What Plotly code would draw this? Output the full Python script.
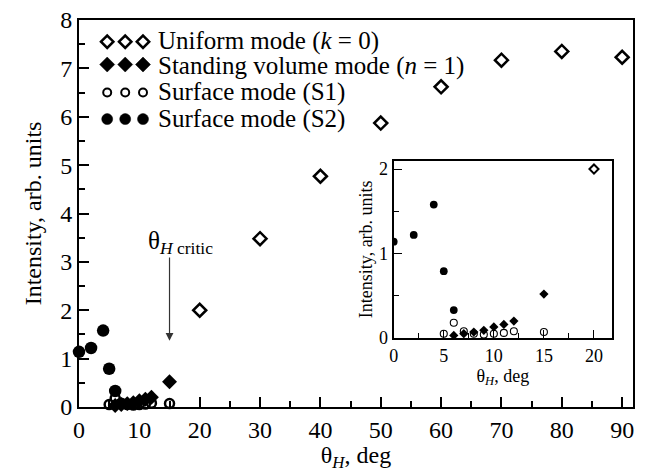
import plotly.graph_objects as go

# ---- data ----
uniform_x = [20, 30, 40, 50, 60, 70, 80, 90]
uniform_y = [2.0, 3.48, 4.77, 5.87, 6.62, 7.17, 7.35, 7.23]

standing_x = [6, 7, 8, 9, 10, 11, 12, 15]
standing_y = [0.03, 0.05, 0.07, 0.09, 0.13, 0.16, 0.20, 0.52]

s1_x = [5, 6, 7, 8, 9, 10, 11, 12, 15]
s1_y = [0.05, 0.18, 0.08, 0.05, 0.04, 0.05, 0.06, 0.08, 0.07]

s2_x = [0, 2, 4, 5, 6]
s2_y = [1.14, 1.22, 1.58, 0.79, 0.33]

legend_labels = [
    "Uniform mode (<i>k</i> = 0)",
    "Standing volume mode (<i>n</i> = 1)",
    "Surface mode (S1)",
    "Surface mode (S2)",
]

FONT = "Liberation Serif"
FS = 25      # legend / annotation text size
FS_T = 24    # axis tick/title size
FS_IN = 18   # inset text size
W, H = 645, 472
L, R, T, B = 79.3, 633.3, 20, 406.7

def fx(px):
    return (px - L) / (R - L)

def fy(py):
    return (B - py) / (B - T)

fig = go.Figure()

def add_series(xref, yref, big, clip):
    s = 1.0 if big else 0.62
    fig.add_trace(go.Scatter(x=uniform_x, y=uniform_y, mode="markers", xaxis=xref, yaxis=yref,
                             cliponaxis=clip,
                             marker=dict(symbol="diamond-open", size=10 * (1.0 if big else 0.7), color="black",
                                         line=dict(width=2.5 if big else 2, color="black"))))
    fig.add_trace(go.Scatter(x=standing_x, y=standing_y, mode="markers", xaxis=xref, yaxis=yref,
                             cliponaxis=clip,
                             marker=dict(symbol="diamond", size=11.5 * s, color="black",
                                         line=dict(width=0))))
    fig.add_trace(go.Scatter(x=s2_x, y=s2_y, mode="markers", xaxis=xref, yaxis=yref,
                             cliponaxis=clip,
                             marker=dict(symbol="circle", size=12.5 * s, color="black",
                                         line=dict(width=0))))
    fig.add_trace(go.Scatter(x=s1_x, y=s1_y, mode="markers", xaxis=xref, yaxis=yref,
                             cliponaxis=clip,
                             marker=dict(symbol="circle-open", size=9 if big else 7, color="black",
                                         line=dict(width=2.5 if big else 1.1, color="black"))))

add_series("x", "y", True, False)
add_series("x2", "y2", False, True)

# ---- manual legend: three glyphs per row drawn as pixel-sized shapes ----
leg_rows_y = [41.7, 64.5, 92.5, 119.0]
leg_glyph_x = [107.5, 125.5, 143.3]

def diamond_path(r):
    return f"M {-r} 0 L 0 {r} L {r} 0 L 0 {-r} Z"

for i, ry in enumerate(leg_rows_y):
    for gx in leg_glyph_x:
        common = dict(xref="paper", yref="paper", xsizemode="pixel", ysizemode="pixel",
                      xanchor=fx(gx), yanchor=fy(ry), layer="above")
        if i == 0:
            fig.add_shape(type="path", path=diamond_path(6.2), fillcolor="white",
                          line=dict(color="black", width=2.5), **common)
        elif i == 1:
            fig.add_shape(type="path", path=diamond_path(7.5), fillcolor="black",
                          line=dict(color="black", width=0.5), **common)
        elif i == 2:
            fig.add_shape(type="circle", x0=-4, x1=4, y0=-4, y1=4, fillcolor="white",
                          line=dict(color="black", width=2), **common)
        else:
            fig.add_shape(type="circle", x0=-5.5, x1=5.5, y0=-5.5, y1=5.5, fillcolor="black",
                          line=dict(color="black", width=0.5), **common)

text_rows_y = [40.5, 66.0, 92.0, 118.5]
for ry, lab in zip(text_rows_y, legend_labels):
    fig.add_annotation(x=fx(156), y=fy(ry), xref="paper", yref="paper", text=lab, showarrow=False,
                       xanchor="left", yanchor="middle", font=dict(family=FONT, size=FS, color="black"))

# ---- critical angle annotation ----
fig.add_annotation(x=15, y=1.37, ax=15, ay=3.12, xref="x", yref="y", axref="x", ayref="y",
                   text="", showarrow=True, arrowhead=2, arrowsize=1.3, arrowwidth=1.2,
                   arrowcolor="#333333")
fig.add_annotation(x=11.1, y=3.4, xref="x", yref="y",
                   text="θ<sub><i>H</i> critic</sub>", showarrow=False, xanchor="left", yanchor="middle",
                   font=dict(family=FONT, size=FS, color="black"))

tickfont = dict(family=FONT, size=FS_T, color="black")
tickfont_in = dict(family=FONT, size=FS_IN, color="black")

ix0 = fx(394)
ix1 = fx(612.3)
iy0 = fy(337.7)
iy1 = fy(160.5)

fig.update_layout(
    template="none",
    width=W, height=H,
    margin=dict(l=L, r=W - R, t=T, b=H - B, pad=0),
    paper_bgcolor="white", plot_bgcolor="white",
    showlegend=False,
    font=dict(family=FONT, size=FS_T, color="black"),
    xaxis=dict(domain=[0, 1], range=[0, 91.8], dtick=10, tick0=0, ticks="inside", ticklen=10,
               tickwidth=1.5, tickcolor="black", showline=True, linewidth=2, linecolor="black",
               mirror=True, showgrid=False, zeroline=False, tickfont=tickfont,
               minor=dict(ticks="inside", dtick=5, tick0=0, ticklen=6, tickwidth=1.5, tickcolor="black"),
               title=dict(text="θ<sub><i>H</i></sub>, deg", font=dict(family=FONT, size=FS_T, color="black"),
                          standoff=5)),
    yaxis=dict(domain=[0, 1], range=[0, 8], dtick=1, tick0=0, ticks="inside", ticklen=10,
               tickwidth=1.5, tickcolor="black", showline=True, linewidth=2, linecolor="black",
               mirror=True, showgrid=False, zeroline=False, tickfont=tickfont,
               minor=dict(ticks="inside", dtick=0.5, tick0=0, ticklen=6, tickwidth=1.5, tickcolor="black"),
               title=dict(text="Intensity, arb. units", font=dict(family=FONT, size=FS_T, color="black"),
                          standoff=12)),
    xaxis2=dict(domain=[ix0, ix1], anchor="y2", range=[0, 21.8], dtick=5, tick0=0, ticks="inside",
                ticklen=8, tickwidth=1.3, tickcolor="black", showline=True, linewidth=2, linecolor="black",
                mirror=True, showgrid=False, zeroline=False, tickfont=tickfont_in,
                minor=dict(ticks="inside", dtick=2.5, tick0=0, ticklen=5, tickwidth=1.3, tickcolor="black"),
                title=dict(text="θ<sub><i>H</i></sub>, deg", font=dict(family=FONT, size=FS_IN, color="black"),
                           standoff=0)),
    yaxis2=dict(domain=[iy0, iy1], anchor="x2", range=[0, 2.1], dtick=1, tick0=0, ticks="inside",
                ticklen=8, tickwidth=1.3, tickcolor="black", showline=True, linewidth=2, linecolor="black",
                mirror=True, showgrid=False, zeroline=False, tickfont=tickfont_in,
                minor=dict(ticks="inside", dtick=0.5, tick0=0, ticklen=5, tickwidth=1.3, tickcolor="black"),
                title=dict(text="Intensity, arb. units", font=dict(family=FONT, size=FS_IN, color="black"),
                           standoff=2)),
)

fig.write_html("out.html")
